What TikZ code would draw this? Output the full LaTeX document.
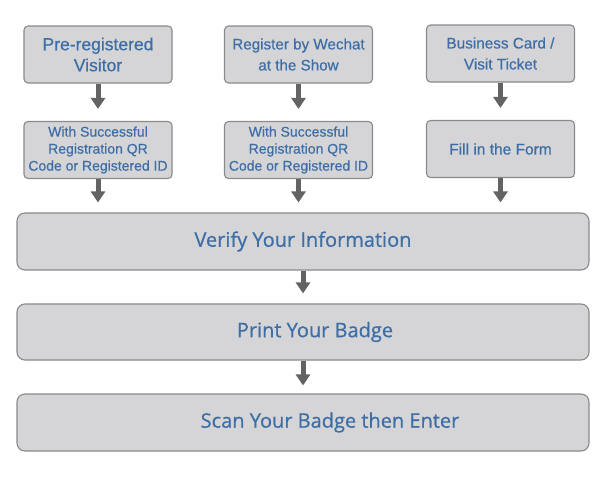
\documentclass[tikz,border=0pt]{standalone}
\usepackage{fontspec}
\setmainfont[FakeBold=0.5]{Liberation Sans}
\newfontfamily\badgefont[FakeBold=0.7]{Open Sans}
\usetikzlibrary{arrows.meta,positioning}
\definecolor{boxfill}{RGB}{213,213,215}
\definecolor{boxline}{RGB}{138,138,140}
\definecolor{labelblue}{RGB}{62,110,165}
\definecolor{arrowgray}{RGB}{99,99,99}
\tikzset{
	smallbox/.style={draw=boxline, fill=boxfill, line width=1.1pt, rounded corners=4pt,
		minimum width=148pt, minimum height=57pt, inner sep=0pt, align=center, text=labelblue},
	widebox/.style={draw=boxline, fill=boxfill, line width=1.1pt, rounded corners=8pt,
		minimum width=572pt, minimum height=57pt, inner sep=0pt, text=labelblue,
		font=\badgefont\fontsize{20}{24}\selectfont},
	flow/.style={draw=arrowgray, line width=5pt, -{Triangle[width=14pt,length=11pt]}}
}
\newcommand{\fsz}[2]{\fontsize{#1}{#2}\selectfont}
\begin{document}
\begin{tikzpicture}[x=1pt, y=-1pt]
	\useasboundingbox[fill=white] (0,0) rectangle (600,490);
	
	% three ways in
	\node[smallbox, font=\fsz{17.5}{21}] (pre) at (98, 54.5) {Pre-registered\\Visitor};
	\node[smallbox, font=\fsz{15.2}{21}] (wechat) at (298.5, 54.5) {Register by Wechat\\at the Show};
	\node[smallbox, font=\fsz{15.3}{21}] (card) at (500.5, 53.5) {Business Card /\\Visit Ticket};
	
	\node[smallbox, font=\fsz{14}{17}] (qr1) at (98, 150) {With Successful\\Registration QR\\Code or Registered ID};
	\node[smallbox, font=\fsz{14}{17}] (qr2) at (298.5, 150) {With Successful\\Registration QR\\Code or Registered ID};
	\node[smallbox, font=\fsz{15.5}{18}] (form) at (500.5, 149) {Fill in the Form};
	
	% common steps
	\node[widebox] (verify) at (303, 241.5) {Verify Your Information};
	\node[widebox, minimum height=56pt] (print) at (303, 332) {\hspace*{24pt}Print Your Badge};
	\node[widebox] (scan) at (303, 422.5) {\hspace*{54pt}Scan Your Badge then Enter};
	
	% arrows
	\draw[flow, shorten >=12pt] (pre) -- (qr1);
	\draw[flow, shorten >=12pt] (wechat) -- (qr2);
	\draw[flow, shorten >=12pt] (card) -- (form);
	\draw[flow, shorten >=10pt] (qr1.south) -- (qr1.south |- verify.north);
	\draw[flow, shorten >=10pt] (qr2.south) -- (qr2.south |- verify.north);
	\draw[flow, shorten >=10pt] (form.south) -- (form.south |- verify.north);
	\draw[flow, shorten >=10pt] (verify) -- (print);
	\draw[flow, shorten >=8pt] (print) -- (scan);
\end{tikzpicture}
\end{document}
